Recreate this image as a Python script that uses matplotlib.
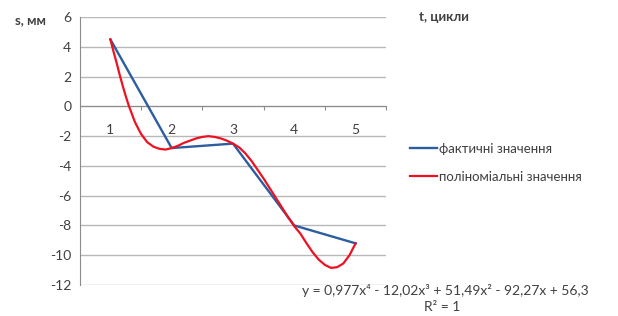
import matplotlib
matplotlib.use('Agg')
import matplotlib.pyplot as plt
import numpy as np

plt.rcParams['font.family'] = ['Lato', 'DejaVu Sans']

# actual values (categories 1..5)
cycles = [1, 2, 3, 4, 5]
actual = [4.5, -2.8, -2.5, -8.0, -9.2]

# polynomial curve
poly_x = [1.0, 1.05, 1.1, 1.15, 1.2, 1.25, 1.3, 1.4, 1.5, 1.6, 1.7, 1.8, 1.9,
          2.0, 2.1, 2.2, 2.3, 2.4, 2.5, 2.6, 2.7, 2.8, 2.9,
          3.0, 3.1, 3.2, 3.3, 3.4, 3.5, 3.6, 3.7, 3.8, 3.9,
          4.0, 4.1, 4.2, 4.3, 4.4, 4.5, 4.6, 4.7, 4.8, 4.9, 5.0]
poly_y = [4.5, 3.7, 2.95, 2.15, 1.4, 0.7, 0.05, -1.05, -1.85, -2.4, -2.7, -2.85, -2.9,
          -2.8, -2.65, -2.45, -2.3, -2.15, -2.05, -2.0, -2.05, -2.15, -2.3,
          -2.5, -2.75, -3.15, -3.65, -4.25, -4.85, -5.5, -6.15, -6.8, -7.45,
          -8.05, -8.55, -9.2, -9.8, -10.3, -10.65, -10.85, -10.8, -10.55, -10.0, -9.2]

y_ticks = [6, 4, 2, 0, -2, -4, -6, -8, -10, -12]
x_labels = ['1', '2', '3', '4', '5']

BLUE = '#2c5d9f'
RED = '#ee1122'
TXT = '#404040'

fig = plt.figure(figsize=(6.18, 3.16), dpi=100)
ax = fig.add_axes([0.129, 0.098, 0.496, 0.848])

for v in y_ticks:
    ax.axhline(v, color='#b8b8b8', lw=1.0, zorder=1)

ax.plot(cycles, actual, color=BLUE, lw=1.7, label='фактичні значення', zorder=3)
ax.plot(poly_x, poly_y, color=RED, lw=1.6, label='поліноміальні значення', zorder=4)

ax.set_xlim(0.5, 5.5)
ax.set_ylim(-12, 6)
ax.set_yticks(y_ticks)
ax.set_yticklabels([str(v) for v in y_ticks], fontsize=10, color=TXT)
ax.tick_params(axis='y', length=0, pad=6)

# x axis crosses at y = 0, category labels drawn below it
ax.spines['bottom'].set_position(('data', 0))
ax.spines['bottom'].set_color('#8c8c8c')
ax.set_xticks([1.5, 2.5, 3.5, 4.5, 5.5])
ax.set_xticklabels([])
ax.tick_params(axis='x', length=3, color='#8c8c8c', direction='out')
for x, lab in zip(cycles, x_labels):
    ax.text(x, -1.6, lab, ha='center', va='center', fontsize=10, color=TXT)

ax.spines['left'].set_color('#8c8c8c')
ax.spines['top'].set_visible(False)
ax.spines['right'].set_visible(False)

fig.text(0.024, 0.925, 's, мм', fontsize=9.5, fontweight='bold', color=TXT)
fig.text(0.678, 0.932, 't, цикли', fontsize=9.5, fontweight='bold', color=TXT)

ax.legend(loc='upper left', bbox_to_anchor=(1.04, 0.575), frameon=False,
          fontsize=9.5, handlelength=2.0, handletextpad=0.2, labelspacing=1.2,
          labelcolor=TXT)

fig.text(0.72, 0.067, 'y = 0,977x⁴ - 12,02x³ + 51,49x² - 92,27x + 56,3',
         ha='center', fontsize=10, color=TXT)
fig.text(0.716, 0.015, 'R² = 1', ha='center', fontsize=10, color=TXT)

fig.savefig('out.png', dpi=100)
